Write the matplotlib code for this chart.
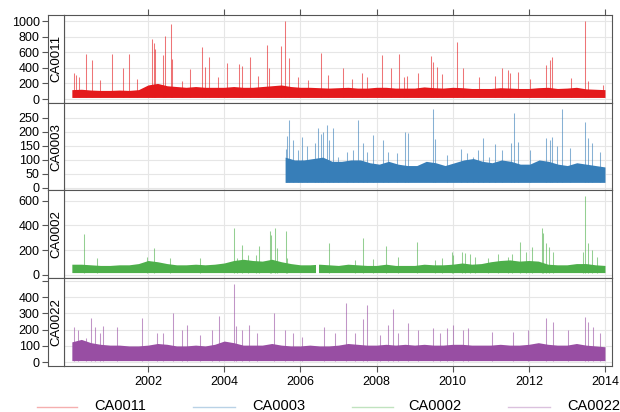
import numpy as np
import matplotlib
matplotlib.use("Agg")
import matplotlib.pyplot as plt
from matplotlib.lines import Line2D

plt.rcParams['font.family'] = ['Liberation Sans', 'DejaVu Sans']

sites = ['CA0011', 'CA0003', 'CA0002', 'CA0022']
colours = ['#E41A1C', '#377EB8', '#4DAF4A', '#984EA3']

# first sample of each record (decimal year), all records run to the end of 2013
first_year = {'CA0011': 2000.0, 'CA0003': 2005.6, 'CA0002': 2000.0, 'CA0022': 2000.0}
last_year = 2014.0

# usual upper level of the daily values, one value per quarter boundary
band_ca0011 = [120, 125, 115, 110, 110, 115, 110, 120, 180, 200, 170, 160,
               150, 160, 150, 150, 150, 160, 150, 150, 160, 170, 180, 160,
               150, 150, 145, 140, 145, 150, 140, 140, 150, 150, 140, 140,
               140, 155, 145, 140, 150, 145, 135, 135, 135, 145, 140, 135,
               135, 145, 150, 135, 140, 150, 130, 125, 120]
band_ca0003 = [110, 100, 100, 105, 110, 95, 95, 100, 100, 90, 85, 95,
               85, 80, 80, 95, 90, 80, 90, 100, 105, 95, 90, 100,
               95, 85, 85, 100, 95, 85, 80, 90, 85, 80, 75]
band_ca0002 = [85, 85, 80, 75, 75, 80, 80, 90, 115, 105, 90, 80,
               80, 85, 80, 85, 95, 115, 125, 115, 110, 125, 105, 90,
               80, 80, 85, 80, 75, 85, 80, 75, 75, 85, 75, 75,
               75, 85, 80, 80, 85, 95, 85, 90, 105, 115, 120, 110,
               115, 110, 85, 80, 80, 90, 90, 80, 75]
band_ca0022 = [125, 140, 120, 110, 105, 105, 100, 100, 105, 115, 110, 100,
               100, 105, 100, 110, 130, 120, 105, 105, 105, 115, 105, 100,
               100, 105, 100, 100, 105, 115, 110, 105, 105, 110, 105, 110,
               105, 110, 105, 105, 110, 110, 105, 105, 105, 110, 105, 105,
               110, 120, 110, 105, 105, 115, 105, 100, 95]
bands = {'CA0011': band_ca0011, 'CA0003': band_ca0003,
         'CA0002': band_ca0002, 'CA0022': band_ca0022}

# usual lower level
floor = {'CA0011': 20, 'CA0003': 20, 'CA0002': 17, 'CA0022': 10}

# individual peaks: (decimal year, value)
peaks_ca0011 = [(2000.06, 337), (2000.11, 310), (2000.20, 278), (2000.36, 577), (2000.52, 500),
                (2000.75, 250), (2001.06, 577), (2001.35, 393), (2001.50, 577), (2001.70, 260),
                (2002.10, 769), (2002.16, 714), (2002.18, 640), (2002.40, 564), (2002.45, 812),
                (2002.61, 957), (2002.63, 509), (2002.88, 230), (2003.10, 380), (2003.42, 671),
                (2003.49, 414), (2003.61, 543), (2003.85, 280), (2004.07, 457), (2004.38, 449),
                (2004.46, 423), (2004.68, 543), (2004.90, 300), (2005.12, 692), (2005.18, 393),
                (2005.49, 680), (2005.60, 1004), (2005.69, 530), (2005.95, 286), (2006.21, 244),
                (2006.54, 585), (2006.73, 308), (2007.13, 393), (2007.35, 260), (2007.61, 329),
                (2007.74, 286), (2008.14, 564), (2008.37, 402), (2008.58, 577), (2008.72, 286),
                (2008.79, 295), (2009.10, 329), (2009.43, 551), (2009.49, 478), (2009.58, 414),
                (2009.71, 320), (2010.12, 735), (2010.26, 393), (2010.69, 278), (2011.11, 295),
                (2011.30, 402), (2011.45, 372), (2011.51, 329), (2011.72, 350), (2012.03, 256),
                (2012.44, 436), (2012.56, 500), (2012.62, 534), (2013.11, 265), (2013.48, 1000),
                (2013.56, 231), (2013.96, 180)]
peaks_ca0003 = [(2005.62, 138), (2005.66, 186), (2005.71, 243), (2005.80, 171), (2005.93, 136),
                (2006.04, 183), (2006.18, 148), (2006.39, 162), (2006.47, 215), (2006.54, 193),
                (2006.59, 198), (2006.69, 225), (2006.76, 171), (2006.85, 213), (2007.00, 112),
                (2007.22, 130), (2007.39, 136), (2007.51, 243), (2007.65, 160), (2007.74, 130),
                (2007.90, 189), (2008.18, 171), (2008.31, 130), (2008.53, 125), (2008.74, 201),
                (2008.84, 196), (2009.49, 281), (2009.54, 176), (2009.84, 118), (2010.22, 138),
                (2010.37, 124), (2010.54, 112), (2010.67, 136), (2010.79, 177), (2010.96, 112),
                (2011.11, 156), (2011.30, 136), (2011.53, 160), (2011.61, 269), (2011.72, 165),
                (2012.03, 136), (2012.44, 177), (2012.56, 171), (2012.60, 183), (2012.73, 148),
                (2012.88, 282), (2013.08, 142), (2013.48, 237), (2013.56, 177), (2013.65, 160),
                (2013.87, 130)]
peaks_ca0002 = [(2000.33, 327), (2000.65, 133), (2001.97, 146), (2002.16, 219), (2002.58, 133),
                (2003.37, 133), (2004.26, 376), (2004.33, 133), (2004.46, 241), (2004.63, 161),
                (2004.84, 161), (2004.92, 233), (2005.20, 357), (2005.22, 322), (2005.34, 376),
                (2005.40, 214), (2005.62, 357), (2005.66, 133), (2006.76, 255), (2007.44, 120),
                (2007.64, 295), (2007.92, 124), (2008.25, 233), (2008.57, 146), (2009.07, 268),
                (2009.54, 120), (2009.71, 133), (2009.98, 187), (2010.02, 161), (2010.24, 187),
                (2010.32, 174), (2010.46, 168), (2010.59, 146), (2010.94, 133), (2011.18, 168),
                (2011.44, 146), (2011.55, 168), (2011.77, 268), (2011.93, 187), (2012.08, 227),
                (2012.34, 376), (2012.38, 335), (2012.45, 255), (2012.54, 227), (2012.64, 187),
                (2013.42, 187), (2013.48, 638), (2013.56, 255), (2013.65, 201), (2013.78, 146)]
peaks_ca0022 = [(2000.06, 218), (2000.17, 198), (2000.37, 147), (2000.50, 270), (2000.61, 218),
                (2000.74, 178), (2000.83, 225), (2001.18, 218), (2001.83, 270), (2002.23, 178),
                (2002.40, 178), (2002.66, 300), (2002.88, 198), (2003.02, 229), (2003.37, 168),
                (2003.67, 198), (2003.87, 284), (2004.26, 480), (2004.31, 225), (2004.46, 198),
                (2004.66, 229), (2004.85, 178), (2005.31, 304), (2005.60, 198), (2005.82, 178),
                (2006.04, 157), (2006.61, 218), (2006.91, 178), (2007.19, 366), (2007.44, 178),
                (2007.65, 264), (2007.76, 352), (2008.09, 168), (2008.31, 229), (2008.43, 327),
                (2008.57, 178), (2008.84, 239), (2009.10, 198), (2009.49, 208), (2009.67, 178),
                (2009.84, 208), (2010.02, 229), (2010.28, 198), (2010.41, 208), (2011.03, 188),
                (2011.59, 188), (2011.99, 198), (2012.45, 270), (2012.63, 249), (2013.04, 198),
                (2013.48, 280), (2013.56, 249), (2013.69, 218), (2013.87, 178)]
peaks = {'CA0011': peaks_ca0011, 'CA0003': peaks_ca0003,
         'CA0002': peaks_ca0002, 'CA0022': peaks_ca0022}

# periods with no data
gaps = {'CA0002': [(2006.41, 2006.50)]}

ylims = {'CA0011': (-48, 1077), 'CA0003': (-9, 304), 'CA0002': (-29, 683), 'CA0022': (-23, 515)}
yticks = {'CA0011': [0, 200, 400, 600, 800, 1000],
          'CA0003': [0, 50, 100, 150, 200, 250],
          'CA0002': [0, 200, 400, 600],
          'CA0022': [0, 100, 200, 300, 400, 500]}
xticks = list(range(2002, 2015, 2))

W, H = 620, 412
fig = plt.figure(figsize=(W / 100, H / 100), dpi=100)
top_px, bottom_px = 15, 366
ph = (bottom_px - top_px) / 4
frame = '#555555'

for i, (site, col) in enumerate(zip(sites, colours)):
    y0 = 1 - (top_px + (i + 1) * ph) / H
    ax = fig.add_axes([64 / W, y0, 548 / W, ph / H])
    strip = fig.add_axes([48 / W, y0, 16 / W, ph / H], sharey=ax)

    band = bands[site]
    t = np.linspace(first_year[site], last_year, len(band))
    ax.fill_between(t, floor[site], band, color=col, lw=0, zorder=2)
    for g0, g1 in gaps.get(site, []):
        ax.fill_between([g0, g1], floor[site] - 8, max(band) + 10, color='white', lw=0, zorder=2.5)
    pt, pv = zip(*peaks[site])
    ax.vlines(pt, floor[site], pv, color=col, lw=0.75, alpha=0.6, zorder=3)

    ax.set_xlim(1999.794, 2014.184)
    ax.set_ylim(*ylims[site])
    ticks = yticks[site]
    labels = [str(v) for v in ticks]
    if site == 'CA0022':
        labels[-1] = ''
    ax.set_yticks(ticks, labels)
    ax.set_xticks(xticks)
    ax.grid(True, color='#e6e6e6', lw=0.8)
    ax.set_axisbelow(True)
    ax.tick_params(axis='y', left=False, labelleft=False)
    ax.tick_params(axis='x', direction='out', length=4, color=frame, labelsize=9,
                   bottom=(i == 3), labelbottom=(i == 3), top=(i == 0), labeltop=False, pad=3)
    for s in ax.spines.values():
        s.set_color(frame)
        s.set_linewidth(0.8)

    strip.set_xticks([])
    strip.tick_params(axis='y', left=True, labelleft=True, direction='out', length=4,
                      color=frame, labelsize=9, pad=2)
    for s in strip.spines.values():
        s.set_color(frame)
        s.set_linewidth(0.8)
    strip.text(0.5, 0.5, site, rotation=90, ha='center', va='center',
               transform=strip.transAxes, fontsize=9.5)

# legend row along the bottom edge
leg_y = 1 - 406.5 / H
line_x = [(37, 77), (193, 235), (352, 393), (508, 550)]
text_x = [94, 252, 408, 567]
for site, col, (a, b), tx in zip(sites, colours, line_x, text_x):
    fig.add_artist(Line2D([a / W, b / W], [leg_y, leg_y], color=col, alpha=0.35, lw=1))
    fig.text(tx / W, leg_y, site, ha='left', va='center', fontsize=10.5)

fig.savefig('out.png', dpi=100)
